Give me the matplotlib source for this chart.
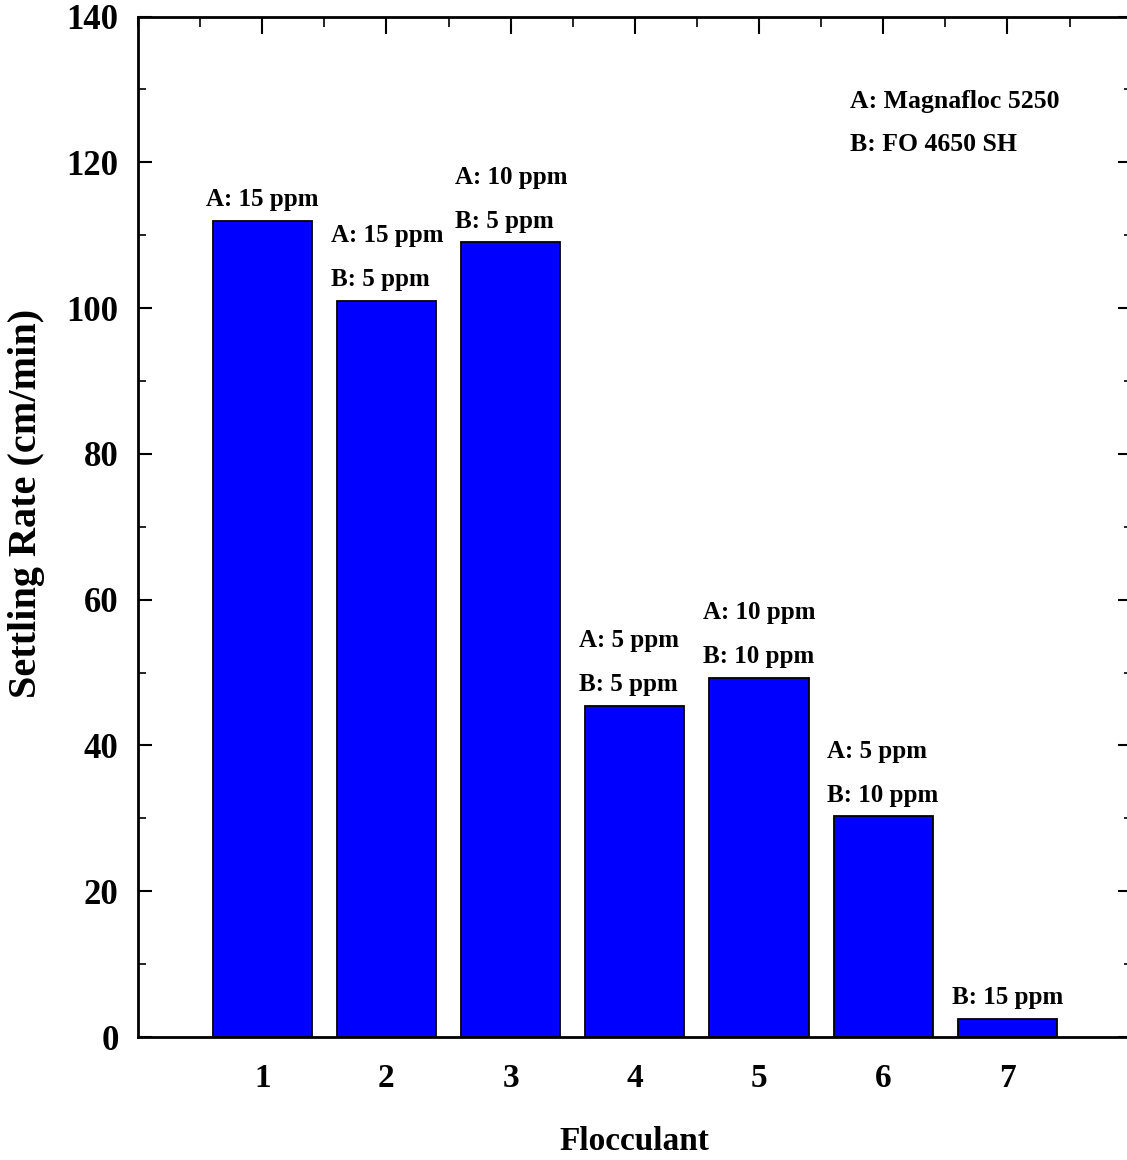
import matplotlib.pyplot as plt
from matplotlib.ticker import MultipleLocator

flocculant = [1, 2, 3, 4, 5, 6, 7]
settling_rate = [112.0, 101.0, 109.0, 45.4, 49.3, 30.3, 2.5]
label_a = ["A: 15 ppm", "A: 15 ppm", "A: 10 ppm", "A: 5 ppm", "A: 10 ppm", "A: 5 ppm", None]
label_b = [None, "B: 5 ppm", "B: 5 ppm", "B: 5 ppm", "B: 10 ppm", "B: 10 ppm", "B: 15 ppm"]
legend_lines = ["A: Magnafloc 5250", "B: FO 4650 SH"]

plt.rcParams['font.family'] = ['Liberation Serif', 'DejaVu Serif']
plt.rcParams['font.weight'] = 'bold'

fig = plt.figure(figsize=(11.27, 11.60), dpi=100)
ax = fig.add_axes([138 / 1127, 123 / 1160, 993.6 / 1127, 1020.5 / 1160])

ax.bar(flocculant, settling_rate, width=0.8, color='#0000ff',
       edgecolor='black', linewidth=1.3, zorder=2)

# concentration labels above each bar
for x, y, a, b in zip(flocculant, settling_rate, label_a, label_b):
    lines = [t for t in (a, b) if t]
    for i, t in enumerate(reversed(lines)):
        ax.annotate(t, (x - 0.45, y), xytext=(0, 10.5 + i * 31.7),
                    textcoords='offset points', ha='left', va='baseline',
                    fontsize=18, fontweight='bold')

ax.text(5.73, 127.5, legend_lines[0], fontsize=18.5, fontweight='bold', va='baseline')
ax.text(5.73, 121.6, legend_lines[1], fontsize=18.5, fontweight='bold', va='baseline')

ax.set_xlim(0, 8)
ax.set_ylim(0, 140)
ax.set_xticks(flocculant)
ax.xaxis.set_minor_locator(MultipleLocator(0.5))
ax.yaxis.set_major_locator(MultipleLocator(20))
ax.yaxis.set_minor_locator(MultipleLocator(10))

ax.tick_params(axis='x', which='both', bottom=False, top=True, direction='in',
               labelsize=24, pad=19)
ax.tick_params(axis='x', which='major', length=12, width=1.5)
ax.tick_params(axis='x', which='minor', length=7, width=1.2)
ax.tick_params(axis='y', which='both', left=True, right=True, direction='in',
               labelsize=25, pad=14)
ax.tick_params(axis='y', which='major', length=10, width=1.5)
ax.tick_params(axis='y', which='minor', length=6, width=1.2)

for s in ax.spines.values():
    s.set_linewidth(2)

ax.set_xlabel('Flocculant', fontsize=24, fontweight='bold', labelpad=23)
ax.set_ylabel('Settling Rate (cm/min)', fontsize=29, fontweight='bold')
ax.yaxis.set_label_coords((45 - 138) / 993.6, (1037 - 503) / 1020.5)

fig.savefig('out.png', dpi=100)
